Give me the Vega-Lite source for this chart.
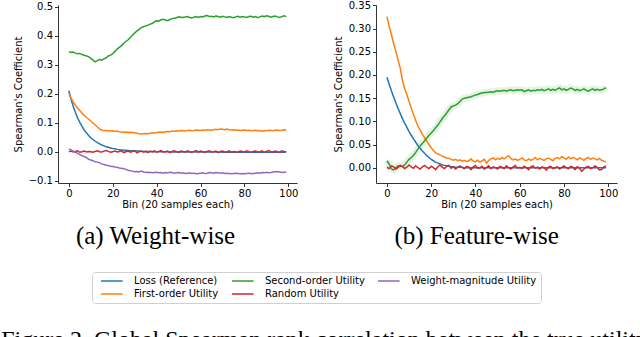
{
  "$schema": "https://vega.github.io/schema/vega-lite/v6.json",
  "padding": {"left": 1, "top": 0, "right": 5, "bottom": 0},
  "config": {
    "view": {"stroke": null},
    "font": "DejaVu Sans",
    "axis": {"grid": false, "domainColor": "#000", "tickColor": "#000", "labelColor": "#000", "titleColor": "#000", "labelFont": "DejaVu Sans", "titleFont": "DejaVu Sans", "labelFontSize": 10, "titleFontSize": 10, "titleFontWeight": "normal", "tickSize": 3.5, "domainWidth": 0.8, "tickWidth": 0.8, "labelPadding": 2},
    "axisY": {"titlePadding": 5},
    "axisX": {"titlePadding": 1, "labelFlush": false},
    "title": {"font": "Liberation Serif", "fontSize": 25, "fontWeight": "normal", "color": "#000"},
    "legend": {"orient": "none", "legendX": 34, "legendY": 267, "direction": "horizontal", "columns": 3, "symbolType": "M0,0H20", "symbolSize": 4.67, "symbolStrokeWidth": 1.5, "labelFont": "DejaVu Sans", "labelFontSize": 10, "labelColor": "#000", "strokeColor": "#d0d0d0", "padding": 4, "cornerRadius": 3, "columnPadding": 8, "rowPadding": 3, "labelOffset": 28, "labelLimit": 300}
  },
  "title": {"text": "Figure 2. Global Spearman rank correlation between the true utility", "orient": "bottom", "anchor": "start", "frame": "bounds", "font": "Liberation Serif", "fontSize": 24, "fontWeight": "normal", "offset": 24, "dx": -12},
  "datasets": {
    "w": [
      {"x":0,"L":0.210,"F":0.200,"S":0.345,"R":0.000,"W":0.010},
      {"x":1,"L":0.181,"F":0.185,"S":0.342,"R":0.002,"W":0.006},
      {"x":2,"L":0.156,"F":0.172,"S":0.344,"R":-0.001,"W":0.002},
      {"x":3,"L":0.135,"F":0.160,"S":0.340,"R":0.001,"W":-0.002},
      {"x":4,"L":0.116,"F":0.150,"S":0.338,"R":0.003,"W":-0.006},
      {"x":5,"L":0.101,"F":0.142,"S":0.339,"R":-0.002,"W":-0.010},
      {"x":6,"L":0.087,"F":0.133,"S":0.335,"R":0.000,"W":-0.014},
      {"x":7,"L":0.075,"F":0.125,"S":0.333,"R":0.002,"W":-0.017},
      {"x":8,"L":0.065,"F":0.118,"S":0.330,"R":-0.001,"W":-0.020},
      {"x":9,"L":0.056,"F":0.112,"S":0.328,"R":0.001,"W":-0.026},
      {"x":10,"L":0.048,"F":0.106,"S":0.322,"R":0.000,"W":-0.029},
      {"x":11,"L":0.042,"F":0.099,"S":0.316,"R":-0.002,"W":-0.031},
      {"x":12,"L":0.036,"F":0.092,"S":0.310,"R":0.001,"W":-0.035},
      {"x":13,"L":0.031,"F":0.085,"S":0.314,"R":0.003,"W":-0.036},
      {"x":14,"L":0.027,"F":0.079,"S":0.318,"R":0.000,"W":-0.038},
      {"x":15,"L":0.023,"F":0.074,"S":0.316,"R":-0.001,"W":-0.042},
      {"x":16,"L":0.020,"F":0.073,"S":0.320,"R":0.002,"W":-0.044},
      {"x":17,"L":0.017,"F":0.072,"S":0.324,"R":0.004,"W":-0.047},
      {"x":18,"L":0.015,"F":0.073,"S":0.330,"R":0.001,"W":-0.048},
      {"x":19,"L":0.013,"F":0.071,"S":0.333,"R":-0.002,"W":-0.050},
      {"x":20,"L":0.011,"F":0.072,"S":0.338,"R":0.000,"W":-0.051},
      {"x":21,"L":0.010,"F":0.070,"S":0.346,"R":0.002,"W":-0.053},
      {"x":22,"L":0.008,"F":0.071,"S":0.354,"R":-0.001,"W":-0.054},
      {"x":23,"L":0.007,"F":0.069,"S":0.360,"R":0.001,"W":-0.056},
      {"x":24,"L":0.006,"F":0.068,"S":0.366,"R":0.003,"W":-0.057},
      {"x":25,"L":0.005,"F":0.067,"S":0.374,"R":-0.003,"W":-0.059},
      {"x":26,"L":0.005,"F":0.068,"S":0.380,"R":0.000,"W":-0.061},
      {"x":27,"L":0.004,"F":0.066,"S":0.386,"R":0.002,"W":-0.064},
      {"x":28,"L":0.003,"F":0.067,"S":0.394,"R":-0.002,"W":-0.066},
      {"x":29,"L":0.003,"F":0.066,"S":0.402,"R":0.001,"W":-0.067},
      {"x":30,"L":0.003,"F":0.065,"S":0.410,"R":0.003,"W":-0.069},
      {"x":31,"L":0.002,"F":0.064,"S":0.416,"R":-0.004,"W":-0.068},
      {"x":32,"L":0.002,"F":0.062,"S":0.422,"R":0.000,"W":-0.070},
      {"x":33,"L":0.001,"F":0.061,"S":0.428,"R":0.002,"W":-0.067},
      {"x":34,"L":0.001,"F":0.062,"S":0.431,"R":-0.001,"W":-0.070},
      {"x":35,"L":0.001,"F":0.063,"S":0.434,"R":0.001,"W":-0.071},
      {"x":36,"L":0.001,"F":0.062,"S":0.436,"R":-0.003,"W":-0.072},
      {"x":37,"L":0.000,"F":0.064,"S":0.440,"R":0.002,"W":-0.071},
      {"x":38,"L":0.000,"F":0.065,"S":0.442,"R":0.000,"W":-0.073},
      {"x":39,"L":0.000,"F":0.064,"S":0.448,"R":0.003,"W":-0.072},
      {"x":40,"L":0.000,"F":0.066,"S":0.452,"R":-0.002,"W":-0.071},
      {"x":41,"L":0.000,"F":0.067,"S":0.450,"R":0.001,"W":-0.073},
      {"x":42,"L":0.000,"F":0.068,"S":0.455,"R":0.004,"W":-0.072},
      {"x":43,"L":0.000,"F":0.066,"S":0.457,"R":-0.001,"W":-0.074},
      {"x":44,"L":0.000,"F":0.069,"S":0.454,"R":0.000,"W":-0.072},
      {"x":45,"L":0.000,"F":0.070,"S":0.452,"R":0.002,"W":-0.073},
      {"x":46,"L":-0.001,"F":0.069,"S":0.456,"R":-0.003,"W":-0.071},
      {"x":47,"L":-0.001,"F":0.071,"S":0.459,"R":0.001,"W":-0.072},
      {"x":48,"L":-0.001,"F":0.070,"S":0.460,"R":0.003,"W":-0.074},
      {"x":49,"L":-0.001,"F":0.072,"S":0.462,"R":0.000,"W":-0.073},
      {"x":50,"L":-0.001,"F":0.071,"S":0.465,"R":-0.002,"W":-0.072},
      {"x":51,"L":-0.001,"F":0.073,"S":0.464,"R":0.002,"W":-0.074},
      {"x":52,"L":-0.001,"F":0.072,"S":0.463,"R":0.001,"W":-0.073},
      {"x":53,"L":-0.001,"F":0.071,"S":0.465,"R":-0.001,"W":-0.075},
      {"x":54,"L":-0.001,"F":0.073,"S":0.466,"R":0.003,"W":-0.074},
      {"x":55,"L":-0.001,"F":0.074,"S":0.463,"R":0.000,"W":-0.073},
      {"x":56,"L":-0.001,"F":0.072,"S":0.461,"R":-0.002,"W":-0.075},
      {"x":57,"L":-0.001,"F":0.073,"S":0.464,"R":0.001,"W":-0.074},
      {"x":58,"L":-0.001,"F":0.075,"S":0.466,"R":0.004,"W":-0.076},
      {"x":59,"L":-0.001,"F":0.074,"S":0.463,"R":-0.001,"W":-0.075},
      {"x":60,"L":-0.001,"F":0.073,"S":0.466,"R":0.002,"W":-0.074},
      {"x":61,"L":-0.001,"F":0.075,"S":0.465,"R":0.000,"W":-0.073},
      {"x":62,"L":-0.001,"F":0.074,"S":0.468,"R":-0.002,"W":-0.075},
      {"x":63,"L":-0.001,"F":0.076,"S":0.470,"R":0.001,"W":-0.074},
      {"x":64,"L":-0.001,"F":0.075,"S":0.466,"R":0.003,"W":-0.072},
      {"x":65,"L":-0.001,"F":0.074,"S":0.467,"R":-0.001,"W":-0.073},
      {"x":66,"L":-0.001,"F":0.076,"S":0.465,"R":0.000,"W":-0.074},
      {"x":67,"L":-0.001,"F":0.077,"S":0.468,"R":0.002,"W":-0.072},
      {"x":68,"L":-0.001,"F":0.076,"S":0.466,"R":-0.003,"W":-0.073},
      {"x":69,"L":-0.001,"F":0.078,"S":0.464,"R":0.001,"W":-0.074},
      {"x":70,"L":-0.002,"F":0.077,"S":0.467,"R":0.002,"W":-0.073},
      {"x":71,"L":-0.002,"F":0.076,"S":0.465,"R":-0.001,"W":-0.075},
      {"x":72,"L":-0.002,"F":0.078,"S":0.463,"R":0.000,"W":-0.074},
      {"x":73,"L":-0.002,"F":0.076,"S":0.466,"R":0.003,"W":-0.075},
      {"x":74,"L":-0.002,"F":0.075,"S":0.464,"R":-0.002,"W":-0.076},
      {"x":75,"L":-0.002,"F":0.076,"S":0.462,"R":0.001,"W":-0.075},
      {"x":76,"L":-0.002,"F":0.074,"S":0.465,"R":0.000,"W":-0.074},
      {"x":77,"L":-0.002,"F":0.075,"S":0.467,"R":-0.002,"W":-0.075},
      {"x":78,"L":-0.002,"F":0.073,"S":0.464,"R":0.002,"W":-0.076},
      {"x":79,"L":-0.002,"F":0.074,"S":0.466,"R":0.001,"W":-0.075},
      {"x":80,"L":-0.002,"F":0.075,"S":0.465,"R":-0.001,"W":-0.076},
      {"x":81,"L":-0.002,"F":0.073,"S":0.463,"R":0.003,"W":-0.075},
      {"x":82,"L":-0.002,"F":0.074,"S":0.466,"R":0.000,"W":-0.074},
      {"x":83,"L":-0.002,"F":0.072,"S":0.467,"R":-0.002,"W":-0.076},
      {"x":84,"L":-0.002,"F":0.073,"S":0.464,"R":0.001,"W":-0.075},
      {"x":85,"L":-0.002,"F":0.074,"S":0.466,"R":0.002,"W":-0.074},
      {"x":86,"L":-0.002,"F":0.072,"S":0.462,"R":-0.001,"W":-0.073},
      {"x":87,"L":-0.002,"F":0.073,"S":0.465,"R":0.000,"W":-0.074},
      {"x":88,"L":-0.002,"F":0.071,"S":0.468,"R":0.003,"W":-0.072},
      {"x":89,"L":-0.002,"F":0.073,"S":0.466,"R":-0.002,"W":-0.073},
      {"x":90,"L":-0.002,"F":0.072,"S":0.469,"R":0.001,"W":-0.071},
      {"x":91,"L":-0.002,"F":0.074,"S":0.467,"R":0.004,"W":-0.073},
      {"x":92,"L":-0.002,"F":0.073,"S":0.464,"R":0.000,"W":-0.072},
      {"x":93,"L":-0.002,"F":0.072,"S":0.466,"R":-0.001,"W":-0.070},
      {"x":94,"L":-0.002,"F":0.074,"S":0.468,"R":0.002,"W":-0.069},
      {"x":95,"L":-0.002,"F":0.075,"S":0.465,"R":0.000,"W":-0.068},
      {"x":96,"L":-0.002,"F":0.073,"S":0.463,"R":-0.002,"W":-0.070},
      {"x":97,"L":-0.002,"F":0.074,"S":0.466,"R":0.003,"W":-0.072},
      {"x":98,"L":-0.002,"F":0.076,"S":0.469,"R":0.001,"W":-0.071},
      {"x":99,"L":-0.002,"F":0.075,"S":0.466,"R":0.000,"W":-0.070}
    ],
    "f": [
      {"x":0,"L":0.195,"F":0.326,"S":0.015,"R":0.001},
      {"x":1,"L":0.180,"F":0.305,"S":0.008,"R":-0.002},
      {"x":2,"L":0.166,"F":0.288,"S":-0.002,"R":0.004},
      {"x":3,"L":0.153,"F":0.268,"S":-0.005,"R":0.002},
      {"x":4,"L":0.140,"F":0.252,"S":0.000,"R":-0.003},
      {"x":5,"L":0.128,"F":0.232,"S":0.004,"R":0.000},
      {"x":6,"L":0.117,"F":0.215,"S":0.003,"R":0.005},
      {"x":7,"L":0.106,"F":0.188,"S":0.002,"R":0.003},
      {"x":8,"L":0.096,"F":0.170,"S":0.006,"R":-0.002},
      {"x":9,"L":0.087,"F":0.158,"S":0.012,"R":0.001},
      {"x":10,"L":0.078,"F":0.143,"S":0.018,"R":0.006},
      {"x":11,"L":0.070,"F":0.128,"S":0.022,"R":0.002},
      {"x":12,"L":0.062,"F":0.115,"S":0.027,"R":-0.001},
      {"x":13,"L":0.055,"F":0.102,"S":0.033,"R":0.004},
      {"x":14,"L":0.048,"F":0.090,"S":0.040,"R":0.000},
      {"x":15,"L":0.042,"F":0.081,"S":0.047,"R":-0.003},
      {"x":16,"L":0.036,"F":0.072,"S":0.052,"R":0.002},
      {"x":17,"L":0.031,"F":0.065,"S":0.058,"R":0.005},
      {"x":18,"L":0.026,"F":0.057,"S":0.064,"R":0.001},
      {"x":19,"L":0.022,"F":0.050,"S":0.070,"R":-0.002},
      {"x":20,"L":0.018,"F":0.043,"S":0.075,"R":0.003},
      {"x":21,"L":0.015,"F":0.037,"S":0.080,"R":0.000},
      {"x":22,"L":0.012,"F":0.032,"S":0.086,"R":-0.004},
      {"x":23,"L":0.010,"F":0.030,"S":0.092,"R":0.002},
      {"x":24,"L":0.008,"F":0.027,"S":0.099,"R":0.006},
      {"x":25,"L":0.006,"F":0.025,"S":0.106,"R":0.001},
      {"x":26,"L":0.005,"F":0.023,"S":0.112,"R":-0.002},
      {"x":27,"L":0.004,"F":0.021,"S":0.118,"R":0.003},
      {"x":28,"L":0.003,"F":0.020,"S":0.125,"R":0.005},
      {"x":29,"L":0.002,"F":0.018,"S":0.131,"R":-0.001},
      {"x":30,"L":0.002,"F":0.016,"S":0.133,"R":0.002},
      {"x":31,"L":0.001,"F":0.018,"S":0.135,"R":-0.003},
      {"x":32,"L":0.001,"F":0.015,"S":0.138,"R":0.001},
      {"x":33,"L":0.001,"F":0.017,"S":0.143,"R":0.004},
      {"x":34,"L":0.001,"F":0.014,"S":0.148,"R":0.000},
      {"x":35,"L":0.000,"F":0.016,"S":0.150,"R":-0.002},
      {"x":36,"L":0.000,"F":0.013,"S":0.151,"R":0.003},
      {"x":37,"L":0.000,"F":0.015,"S":0.152,"R":0.001},
      {"x":38,"L":0.000,"F":0.019,"S":0.153,"R":-0.004},
      {"x":39,"L":0.000,"F":0.014,"S":0.155,"R":0.002},
      {"x":40,"L":0.000,"F":0.013,"S":0.157,"R":0.005},
      {"x":41,"L":0.000,"F":0.016,"S":0.158,"R":-0.001},
      {"x":42,"L":0.000,"F":0.012,"S":0.160,"R":0.000},
      {"x":43,"L":0.000,"F":0.015,"S":0.161,"R":0.003},
      {"x":44,"L":0.000,"F":0.018,"S":0.162,"R":-0.003},
      {"x":45,"L":0.000,"F":0.010,"S":0.162,"R":0.001},
      {"x":46,"L":0.000,"F":0.016,"S":0.163,"R":0.004},
      {"x":47,"L":0.000,"F":0.019,"S":0.164,"R":-0.002},
      {"x":48,"L":0.000,"F":0.021,"S":0.163,"R":0.002},
      {"x":49,"L":0.000,"F":0.017,"S":0.165,"R":0.000},
      {"x":50,"L":0.000,"F":0.020,"S":0.166,"R":-0.003},
      {"x":51,"L":0.000,"F":0.018,"S":0.165,"R":0.003},
      {"x":52,"L":0.000,"F":0.022,"S":0.166,"R":0.001},
      {"x":53,"L":0.000,"F":0.019,"S":0.167,"R":-0.002},
      {"x":54,"L":0.000,"F":0.023,"S":0.165,"R":0.004},
      {"x":55,"L":0.000,"F":0.026,"S":0.167,"R":0.000},
      {"x":56,"L":0.000,"F":0.020,"S":0.168,"R":-0.003},
      {"x":57,"L":0.000,"F":0.017,"S":0.166,"R":0.002},
      {"x":58,"L":0.000,"F":0.019,"S":0.167,"R":0.005},
      {"x":59,"L":0.000,"F":0.016,"S":0.168,"R":-0.001},
      {"x":60,"L":0.000,"F":0.018,"S":0.167,"R":0.001},
      {"x":61,"L":0.000,"F":0.021,"S":0.168,"R":-0.002},
      {"x":62,"L":0.000,"F":0.017,"S":0.164,"R":0.003},
      {"x":63,"L":0.000,"F":0.015,"S":0.166,"R":0.000},
      {"x":64,"L":0.000,"F":0.019,"S":0.168,"R":-0.004},
      {"x":65,"L":0.000,"F":0.016,"S":0.165,"R":0.002},
      {"x":66,"L":0.000,"F":0.018,"S":0.167,"R":0.004},
      {"x":67,"L":0.000,"F":0.022,"S":0.166,"R":-0.001},
      {"x":68,"L":0.000,"F":0.017,"S":0.168,"R":0.001},
      {"x":69,"L":0.000,"F":0.020,"S":0.167,"R":-0.003},
      {"x":70,"L":0.000,"F":0.018,"S":0.169,"R":0.002},
      {"x":71,"L":0.000,"F":0.016,"S":0.166,"R":0.000},
      {"x":72,"L":0.000,"F":0.019,"S":0.168,"R":-0.005},
      {"x":73,"L":0.000,"F":0.021,"S":0.170,"R":0.001},
      {"x":74,"L":0.000,"F":0.018,"S":0.167,"R":0.003},
      {"x":75,"L":0.000,"F":0.015,"S":0.169,"R":-0.002},
      {"x":76,"L":0.000,"F":0.020,"S":0.167,"R":0.000},
      {"x":77,"L":0.000,"F":0.022,"S":0.170,"R":0.002},
      {"x":78,"L":0.000,"F":0.019,"S":0.172,"R":-0.003},
      {"x":79,"L":0.000,"F":0.024,"S":0.168,"R":0.001},
      {"x":80,"L":0.000,"F":0.021,"S":0.170,"R":0.004},
      {"x":81,"L":0.000,"F":0.018,"S":0.167,"R":0.000},
      {"x":82,"L":0.000,"F":0.023,"S":0.169,"R":-0.002},
      {"x":83,"L":0.000,"F":0.019,"S":0.172,"R":0.003},
      {"x":84,"L":0.000,"F":0.022,"S":0.170,"R":0.001},
      {"x":85,"L":0.000,"F":0.020,"S":0.167,"R":-0.004},
      {"x":86,"L":0.000,"F":0.017,"S":0.169,"R":0.002},
      {"x":87,"L":0.000,"F":0.021,"S":0.166,"R":-0.001},
      {"x":88,"L":0.000,"F":0.019,"S":0.168,"R":-0.008},
      {"x":89,"L":0.000,"F":0.016,"S":0.170,"R":-0.003},
      {"x":90,"L":0.000,"F":0.020,"S":0.167,"R":0.001},
      {"x":91,"L":0.000,"F":0.022,"S":0.165,"R":0.003},
      {"x":92,"L":0.000,"F":0.018,"S":0.168,"R":-0.002},
      {"x":93,"L":0.000,"F":0.021,"S":0.170,"R":0.000},
      {"x":94,"L":0.000,"F":0.019,"S":0.167,"R":0.004},
      {"x":95,"L":0.000,"F":0.017,"S":0.169,"R":0.001},
      {"x":96,"L":0.000,"F":0.020,"S":0.167,"R":-0.005},
      {"x":97,"L":0.000,"F":0.016,"S":0.168,"R":-0.004},
      {"x":98,"L":0.000,"F":0.014,"S":0.170,"R":0.002},
      {"x":99,"L":0.000,"F":0.013,"S":0.173,"R":0.004}
    ]
  },
  "spacing": 35,
  "hconcat": [
    {
      "data": {"name": "w"},
      "transform": [{"fold": ["L", "F", "S", "R", "W"], "as": ["s", "v"]}],
      "width": 239,
      "height": 178,
      "title": {"text": "(a) Weight-wise", "orient": "bottom", "anchor": "middle", "frame": "bounds", "offset": 14},
      "mark": {"type": "line", "strokeWidth": 1.5},
      "encoding": {
        "x": {"field": "x", "type": "quantitative", "scale": {"domain": [-4.95, 103.95], "nice": false, "zero": false}, "axis": {"values": [0, 20, 40, 60, 80, 100], "title": "Bin (20 samples each)"}},
        "y": {"field": "v", "type": "quantitative", "scale": {"domain": [-0.108, 0.506], "nice": false, "zero": false}, "axis": {"values": [-0.1, 0, 0.1, 0.2, 0.3, 0.4, 0.5], "format": ".1f", "title": "Spearman's Coefficient"}},
        "color": {"field": "s", "type": "nominal", "scale": {"domain": ["L", "S", "W", "F", "R"], "range": ["#1f77b4", "#2ca02c", "#9467bd", "#ff7f0e", "#d62728"]}, "legend": {"title": null, "labelExpr": "{'L':'Loss (Reference)','S':'Second-order Utility','W':'Weight-magnitude Utility','F':'First-order Utility','R':'Random Utility'}[datum.label]"}}
      }
    },
    {
      "data": {"name": "f"},
      "transform": [{"fold": ["L", "F", "S", "R"], "as": ["s", "v"]}],
      "width": 241,
      "height": 178,
      "title": {"text": "(b) Feature-wise", "orient": "bottom", "anchor": "middle", "frame": "bounds", "offset": 14},
      "layer": [
        {
          "transform": [{"filter": "datum.s === 'S'"}],
          "mark": {"type": "line", "strokeWidth": 7, "opacity": 0.12, "color": "#2ca02c"},
          "encoding": {
            "x": {"field": "x", "type": "quantitative"},
            "y": {"field": "v", "type": "quantitative"}
          }
        },
        {
          "mark": {"type": "line", "strokeWidth": 1.5},
          "encoding": {
            "x": {"field": "x", "type": "quantitative"},
            "y": {"field": "v", "type": "quantitative"},
            "color": {"field": "s", "type": "nominal"}
          }
        }
      ],
      "encoding": {
        "x": {"field": "x", "type": "quantitative", "scale": {"domain": [-4.95, 103.95], "nice": false, "zero": false}, "axis": {"values": [0, 20, 40, 60, 80, 100], "title": "Bin (20 samples each)"}},
        "y": {"field": "v", "type": "quantitative", "scale": {"domain": [-0.033, 0.351], "nice": false, "zero": false}, "axis": {"values": [0, 0.05, 0.1, 0.15, 0.2, 0.25, 0.3, 0.35], "format": ".2f", "title": "Spearman's Coefficient"}}
      }
    }
  ]
}
